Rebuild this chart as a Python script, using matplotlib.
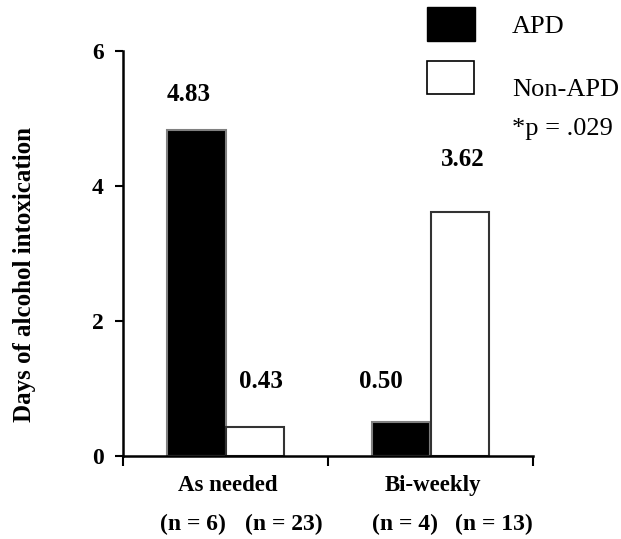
import matplotlib
matplotlib.use('Agg')
import matplotlib.pyplot as plt
import numpy as np

# data
categories = ['As needed', 'Bi-weekly']
groups = ['APD', 'Non-APD']
apd_values = [4.83, 0.50]
non_apd_values = [0.43, 3.62]
apd_n = ['(n = 6)', '(n = 4)']
non_apd_n = ['(n = 23)', '(n = 13)']
p_text = '*p = .029'

plt.rcParams['font.family'] = ['Liberation Serif', 'DejaVu Serif']

fig = plt.figure(figsize=(6.21, 5.39), dpi=100)
ax = fig.add_axes([123 / 621, 83 / 539, 410 / 621, 405 / 539])

centers = np.array([0.5, 1.5])
width = 0.285
ax.bar(centers - width / 2, apd_values, width, color='black', edgecolor='#808080', linewidth=1.5)
ax.bar(centers + width / 2, non_apd_values, width, color='white', edgecolor='#333333', linewidth=1.5)

# value labels (placed like the original, not strictly centred)
apd_lbl_pos = [(0.32, 5.35), (1.26, 1.1)]
non_lbl_pos = [(0.675, 1.1), (1.66, 4.39)]
for (x, y), v in zip(apd_lbl_pos, apd_values):
    ax.text(x, y, f'{v:.2f}', ha='center', va='center', fontsize=18, fontweight='bold')
for (x, y), v in zip(non_lbl_pos, non_apd_values):
    ax.text(x, y, f'{v:.2f}', ha='center', va='center', fontsize=18, fontweight='bold')

ax.set_xlim(0, 2)
ax.set_ylim(0, 6)
ax.set_yticks([0, 2, 4, 6])
ax.set_xticks([0, 1, 2])
ax.set_xticklabels([])
ax.tick_params(axis='y', direction='out', length=6, width=1.5, labelsize=17, pad=8)
ax.tick_params(axis='x', direction='out', length=7, width=1.5)
for lbl in ax.get_yticklabels():
    lbl.set_fontweight('bold')
for s in ['top', 'right']:
    ax.spines[s].set_visible(False)
for s in ['left', 'bottom']:
    ax.spines[s].set_linewidth(1.8)

ax.set_ylabel('Days of alcohol intoxication', fontsize=18, fontweight='bold')
ax.yaxis.set_label_coords(-0.212, 0.447)

# category labels and group sizes under the axis
for c, name in zip(centers, categories):
    ax.text(c + 0.01, -0.43, name, ha='center', va='center', fontsize=16.5, fontweight='bold')
n_x = [(0.34, 0.785), (1.376, 1.81)]
for (xa, xb), a, b in zip(n_x, apd_n, non_apd_n):
    ax.text(xa, -1.02, a, ha='center', va='center', fontsize=17, fontweight='bold')
    ax.text(xb, -1.02, b, ha='center', va='center', fontsize=17, fontweight='bold')

# legend drawn by hand to match layout
fig.patches.append(plt.Rectangle((427 / 621, 1 - 41 / 539), 48 / 621, 34 / 539,
                                 transform=fig.transFigure, facecolor='black', edgecolor='black'))
fig.patches.append(plt.Rectangle((427 / 621, 1 - 94 / 539), 47 / 621, 33 / 539,
                                 transform=fig.transFigure, facecolor='white', edgecolor='black', linewidth=1.2))
fig.text(512 / 621, 1 - 27 / 539, groups[0], ha='left', va='center', fontsize=19)
fig.text(512 / 621, 1 - 90 / 539, groups[1], ha='left', va='center', fontsize=19)
fig.text(512 / 621, 1 - 129 / 539, p_text, ha='left', va='center', fontsize=19)

fig.savefig('out.png', dpi=100, facecolor='white')
